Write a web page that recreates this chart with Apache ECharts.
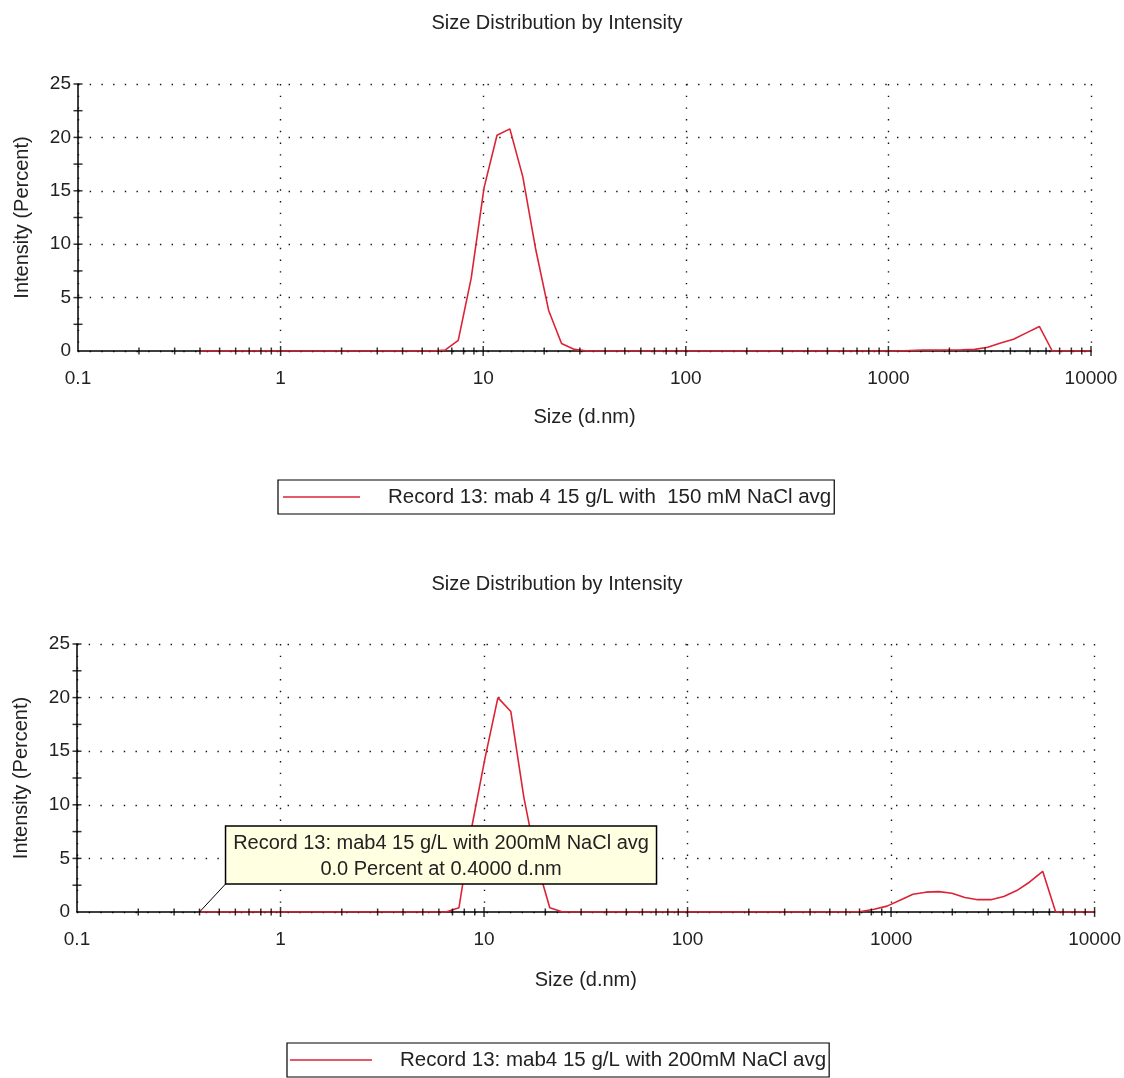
<!DOCTYPE html>
<html>
<head>
<meta charset="utf-8">
<script src="https://cdn.jsdelivr.net/npm/echarts@6/dist/echarts.min.js"></script>
<style>
html,body{margin:0;padding:0;background:#fff;}
#chart{width:1124px;height:1078px;}
</style>
</head>
<body>
<div id="chart"></div>
<script>
// Size bins (d.nm)
const sizes = [0.4, 0.4632, 0.5365, 0.6213, 0.7195, 0.8332, 0.9649, 1.117, 1.294, 1.499,
  1.736, 2.01, 2.328, 2.696, 3.122, 3.615, 4.187, 4.849, 5.615, 6.503,
  7.531, 8.721, 10.1, 11.7, 13.54, 15.69, 18.17, 21.04, 24.36, 28.21,
  32.67, 37.84, 43.82, 50.75, 58.77, 68.06, 78.82, 91.28, 105.7, 122.4,
  141.8, 164.2, 190.1, 220.2, 255.0, 295.3, 342.0, 396.1, 458.7, 531.2,
  615.1, 712.4, 825.0, 955.4, 1106, 1281, 1484, 1718, 1990, 2305,
  2669, 3091, 3580, 4145, 4801, 5560, 6439, 7456, 8635, 10000];

// Intensity (%) - 150 mM NaCl
const intensity150 = [0, 0, 0, 0, 0, 0, 0, 0, 0, 0,
  0, 0, 0, 0, 0, 0, 0, 0, 0, 0.1,
  1.0, 6.8, 15.3, 20.2, 20.8, 16.3, 9.5, 3.8, 0.7, 0.15,
  0, 0, 0, 0, 0, 0, 0, 0, 0, 0,
  0, 0, 0, 0, 0, 0, 0, 0, 0, 0,
  0, 0, 0, 0, 0, 0.05, 0.1, 0.1, 0.1, 0.12,
  0.15, 0.35, 0.75, 1.1, 1.7, 2.3, 0, 0, 0, 0];

// Intensity (%) - 200 mM NaCl
const intensity200 = [0, 0, 0, 0, 0, 0, 0, 0, 0, 0,
  0, 0, 0, 0, 0, 0, 0, 0, 0, 0,
  0.4, 8.0, 14.3, 20.0, 18.7, 10.7, 4.6, 0.4, 0, 0,
  0, 0, 0, 0, 0, 0, 0, 0, 0, 0,
  0, 0, 0, 0, 0, 0, 0, 0, 0, 0,
  0, 0.05, 0.25, 0.55, 1.1, 1.65, 1.85, 1.9, 1.75, 1.35,
  1.15, 1.15, 1.45, 2.0, 2.8, 3.8, 0, 0, 0, 0];

const seriesNames = ['Record 13: mab 4 15 g/L with  150 mM NaCl avg', 'Record 13: mab4 15 g/L with 200mM NaCl avg'];
const chartTitle = 'Size Distribution by Intensity';
const xAxisTitle = 'Size (d.nm)';
const yAxisTitle = 'Intensity (Percent)';
const xTickLabels = ['0.1', '1', '10', '100', '1000', '10000'];
const xMajorTicks = [1, 10, 100, 1000, 10000];
const xMinorTicks = [0.2, 0.3, 0.4, 0.5, 0.6, 0.7, 0.8, 0.9, 2, 3, 4, 5, 6, 7, 8, 9,
  20, 30, 40, 50, 60, 70, 80, 90, 200, 300, 400, 500, 600, 700, 800, 900,
  2000, 3000, 4000, 5000, 6000, 7000, 8000, 9000];
const yTicks = [2.5, 5, 7.5, 10, 12.5, 15, 17.5, 20, 22.5, 25];
const calloutPoint = [0.4, 0.0];
const calloutLines = ['Record 13: mab4 15 g/L with 200mM NaCl avg', '0.0 Percent at 0.4000 d.nm'];

const FONT = '"Liberation Sans", Arial, sans-serif';
const RED = '#dc2335';
const TXT = '#222';

const chart = echarts.init(document.getElementById('chart'), null, {renderer: 'canvas'});

const grids = [
  {left: 78, right: 33, top: 84, height: 267},
  {left: 77, right: 28, top: 644, height: 268}
];
const nameGapX = [56, 58];

function xAxisCfg(i) {
  return {
    type: 'log', logBase: 10, min: 0.1, max: 10000, gridIndex: i,
    name: xAxisTitle, nameLocation: 'middle', nameGap: nameGapX[i],
    nameTextStyle: {fontFamily: FONT, fontSize: 20, color: TXT},
    axisLine: {show: true, lineStyle: {color: '#000', width: 1.5}},
    axisTick: {show: false},
    axisLabel: {
      margin: 18, fontFamily: FONT, fontSize: 19, color: TXT,
      formatter: v => xTickLabels[Math.round(Math.log10(v)) + 1]
    },
    splitLine: {show: true, lineStyle: {color: '#111', width: 1.4, type: [1.4, 10.3]}},
    minorTick: {show: false}
  };
}
function yAxisCfg(i) {
  return {
    type: 'value', min: 0, max: 25, interval: 5, gridIndex: i,
    name: yAxisTitle, nameLocation: 'middle', nameGap: 46,
    nameTextStyle: {fontFamily: FONT, fontSize: 20, color: TXT},
    axisLine: {show: true, lineStyle: {color: '#000', width: 1.5}},
    axisTick: {show: false},
    axisLabel: {margin: 7, fontFamily: FONT, fontSize: 19, color: TXT},
    splitLine: {show: true, lineStyle: {color: '#111', width: 1.4, type: [1.4, 10.3]}}
  };
}
function tickSeries(i) {
  return [
    {type: 'scatter', xAxisIndex: i, yAxisIndex: i, silent: true, clip: false, z: 5,
      symbol: 'rect', symbolSize: [1.5, 7], itemStyle: {color: '#000'},
      data: xMinorTicks.map(v => [v, 0])},
    {type: 'scatter', xAxisIndex: i, yAxisIndex: i, silent: true, clip: false, z: 5,
      symbol: 'rect', symbolSize: [1.5, 10], itemStyle: {color: '#000'},
      data: xMajorTicks.map(v => [v, 0])},
    {type: 'scatter', xAxisIndex: i, yAxisIndex: i, silent: true, clip: false, z: 5,
      symbol: 'rect', symbolSize: [9, 1.5], itemStyle: {color: '#000'},
      data: yTicks.map(v => [0.1, v])}
  ];
}
function legendCfg(i, left, top, itemWidth, padLeft) {
  return {
    show: true, left: left, top: top, orient: 'horizontal',
    data: [{name: seriesNames[i], icon: 'rect'}],
    itemWidth: itemWidth, itemHeight: 1.5,
    borderColor: '#000', borderWidth: 1.2, borderRadius: 0,
    padding: [6, 3, 6, padLeft],
    selectedMode: false,
    formatter: n => '{p|' + n + '}',
    textStyle: {
      fontFamily: FONT, fontSize: 20.5, color: TXT, lineHeight: 22,
      rich: {p: {padding: [0, 0, 0, 23], fontFamily: FONT, fontSize: 20.5, color: TXT, lineHeight: 22}}
    }
  };
}

const option = {
  animation: false,
  backgroundColor: '#fff',
  title: [
    {text: chartTitle, left: 557, top: 13, textAlign: 'center', padding: 0,
      textStyle: {fontFamily: FONT, fontSize: 20, fontWeight: 'normal', color: TXT}},
    {text: chartTitle, left: 557, top: 574, textAlign: 'center', padding: 0,
      textStyle: {fontFamily: FONT, fontSize: 20, fontWeight: 'normal', color: TXT}}
  ],
  grid: grids,
  xAxis: [xAxisCfg(0), xAxisCfg(1)],
  yAxis: [yAxisCfg(0), yAxisCfg(1)],
  legend: [legendCfg(0, 278, 480, 77, 5), legendCfg(1, 287, 1043, 82, 3)],
  series: [
    {name: seriesNames[0], type: 'line', xAxisIndex: 0, yAxisIndex: 0, z: 3,
      symbol: 'none', showSymbol: false, smooth: false,
      lineStyle: {color: RED, width: 1.6}, itemStyle: {color: RED},
      data: sizes.map((s, k) => [s, intensity150[k]])},
    {name: seriesNames[1], type: 'line', xAxisIndex: 1, yAxisIndex: 1, z: 3,
      symbol: 'none', showSymbol: false, smooth: false,
      lineStyle: {color: RED, width: 1.6}, itemStyle: {color: RED},
      data: sizes.map((s, k) => [s, intensity200[k]])},
    ...tickSeries(0),
    ...tickSeries(1)
  ]
};
chart.setOption(option);

// Callout annotation anchored at the data point through the axis scales
const p = chart.convertToPixel({xAxisIndex: 1, yAxisIndex: 1}, calloutPoint);
const bx = p[0] + 26, by = p[1] - 86, bw = 431, bh = 58;
chart.setOption({
  graphic: [
    {type: 'line', z: 100, shape: {x1: p[0], y1: p[1], x2: bx, y2: by + bh},
      style: {stroke: '#000', lineWidth: 1}},
    {type: 'rect', z: 100, shape: {x: bx, y: by, width: bw, height: bh},
      style: {fill: '#ffffe1', stroke: '#000', lineWidth: 1.5}},
    {type: 'text', z: 101, x: bx + bw / 2, y: by + 17,
      style: {text: calloutLines[0], fill: TXT, font: '20px ' + FONT, align: 'center', verticalAlign: 'middle'}},
    {type: 'text', z: 101, x: bx + bw / 2, y: by + 43,
      style: {text: calloutLines[1], fill: TXT, font: '20px ' + FONT, align: 'center', verticalAlign: 'middle'}}
  ]
});
</script>
</body>
</html>
